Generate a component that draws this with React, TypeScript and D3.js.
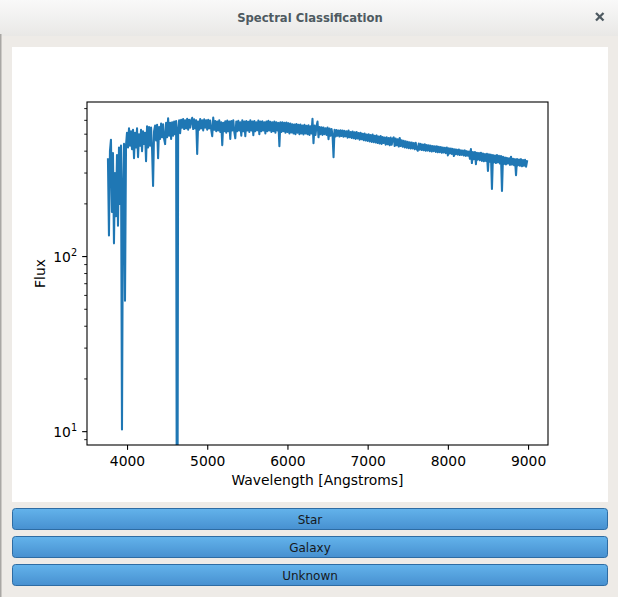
import React from 'react';
import * as d3 from 'd3';

// Spectrum sampling (as stored in a spectrum file header): start wavelength and step, in Angstroms
const WAVE_START = 3756;
const WAVE_STEP = 12.5;

// Flux values, one per sample (0 = bad pixel, clipped on the log axis)
const flux: number[] = [
  // 3756 - 4000
  360, 132, 400, 465, 180, 390, 119, 300, 170, 380, 150, 420, 200, 430, 10.3, 250, 440, 56, 430, 510,
  // 4006 - 4318
  420, 540, 430, 520, 410, 530, 365, 510, 420, 540, 370, 500, 430, 530, 400, 520, 440, 510, 351, 555, 420, 550, 430, 545, 410, 253,
  // 4331 - 4618
  520, 560, 460, 565, 365, 550, 470, 575, 480, 570, 470, 439, 580, 480, 616, 490, 580, 470, 585, 490, 590, 500, 595, 0,
  // 4631 - 5068
  540, 600, 507, 605, 545, 610, 535, 600, 540, 612, 530, 605, 545, 600, 620, 535, 608, 540, 600, 385,
  590, 530, 610, 540, 600, 525, 608, 545, 600, 530, 605, 540, 598, 530, 487, 622,
  // 5081 - 5906
  530, 595, 520, 590, 525, 600, 515, 585, 433, 580, 520, 592, 510, 598, 520, 590, 470, 595, 525, 600,
  515, 474, 590, 520, 596, 525, 585, 490, 600, 520, 590, 487, 595, 525, 588, 515, 600, 525, 590, 493,
  595, 520, 585, 527, 598, 500, 590, 520, 592, 525, 585, 505, 590, 520, 596, 525, 588, 515, 585, 520,
  590, 510, 585, 525, 580, 427, 585,
  // 5918 - 6656
  515, 585, 520, 580, 510, 582, 515, 578, 505, 575, 512, 570, 505, 568, 500, 572, 510, 565, 500, 568,
  505, 560, 498, 565, 505, 558, 500, 562, 495, 555, 505, 612, 444, 560, 495, 555, 590, 480, 550, 500,
  548, 495, 545, 500, 540, 495, 545, 468, 538, 490, 535, 495, 370, 530, 485, 528, 490, 525, 485, 527,
  // 6668 - 7406
  488, 525, 483, 522, 486, 520, 478, 524, 480, 515, 476, 518, 474, 512, 470, 515, 472, 508, 465, 510,
  468, 502, 462, 505, 460, 498, 458, 500, 455, 495, 452, 497, 450, 490, 448, 492, 445, 485, 442, 488,
  440, 482, 445, 478, 436, 480, 438, 475, 432, 478, 435, 470, 480, 428, 472, 432, 468, 425, 476, 428,
  // 7418 - 8243
  462, 424, 458, 420, 455, 418, 452, 416, 450, 414, 448, 415, 445, 410, 446, 412, 402, 442, 408, 440,
  406, 437, 405, 438, 402, 434, 403, 432, 400, 430, 398, 428, 400, 426, 396, 427, 394, 424, 395, 422,
  392, 420, 393, 418, 390, 419, 378, 416, 388, 414, 386, 412, 375, 410, 384, 408, 382, 409, 380, 405,
  381, 403, 378, 404, 376, 400, 377,
  // 8256 - 8668
  398, 362, 411, 342, 395, 360, 396, 337, 392, 358, 390, 355, 392, 352, 388, 350, 385, 352, 386, 308,
  384, 348, 382, 243, 380, 345, 378, 342, 380, 345, 376, 340, 375, 237,
  // 8681 - 8981
  372, 338, 368, 336, 366, 340, 364, 334, 372, 335, 362, 333, 360, 292, 361, 332, 358, 330, 360, 328,
  356, 330, 357, 326, 350,
];

const xTicks = [4000, 5000, 6000, 7000, 8000, 9000];
const yMajorTicks = [10, 100];
const yMajorExp = ['1', '2'];
const yMinorTicks = [9, 20, 30, 40, 50, 60, 70, 80, 90, 200, 300, 400, 500, 600, 700];
const buttonLabels = ['Star', 'Galaxy', 'Unknown'];
const windowTitle = 'Spectral Classification';
const xLabel = 'Wavelength [Angstroms]';
const yLabel = 'Flux';

type Pt = { w: number; f: number };

export default function App() {
  const W = 618;
  const H = 597;
  const plot = { left: 87, right: 548, top: 102, bottom: 445 };

  const data: Pt[] = flux.map((f, i) => ({ w: WAVE_START + i * WAVE_STEP, f }));
  const wMin = data[0].w;
  const wMax = data[data.length - 1].w;
  const pad = (wMax - wMin) * 0.05;
  const x = d3.scaleLinear().domain([wMin - pad, wMax + pad]).range([plot.left, plot.right]);

  const pos = flux.filter((f) => f > 0);
  const lmin = Math.log10(d3.min(pos) as number);
  const lmax = Math.log10(d3.max(pos) as number);
  const lpad = (lmax - lmin) * 0.05;
  const y = d3
    .scaleLog()
    .domain([Math.pow(10, lmin - lpad), Math.pow(10, lmax + lpad)])
    .range([plot.bottom, plot.top]);

  const line = d3
    .line<Pt>()
    .x((d) => x(d.w))
    .y((d) => (d.f > 0 ? y(d.f) : plot.bottom + 300));

  const font = "'DejaVu Sans', sans-serif";
  const fs = 13.89;
  const majorLen = 4.86;
  const minorLen = 2.78;
  const axisStroke = 1.1;

  const btnY0 = 508;
  const btnStep = 28;
  const btnH = 22;

  return (
    <svg
      width={W}
      height={H}
      viewBox={`0 0 ${W} ${H}`}
      style={{ position: 'absolute', left: 0, top: 0, display: 'block' }}
    >
      <defs>
        <linearGradient id="titleGrad" x1="0" y1="0" x2="0" y2="1">
          <stop offset="0" stopColor="#f9f9f9" />
          <stop offset="1" stopColor="#e9e8e6" />
        </linearGradient>
        <linearGradient id="btnGrad" x1="0" y1="0" x2="0" y2="1">
          <stop offset="0" stopColor="#63b3eb" />
          <stop offset="1" stopColor="#4790d0" />
        </linearGradient>
        <clipPath id="axClip">
          <rect x={plot.left} y={plot.top} width={plot.right - plot.left} height={plot.bottom - plot.top} />
        </clipPath>
      </defs>

      {/* window background */}
      <rect x={0} y={0} width={W} height={H} fill="#eeebe7" />
      <rect x={0} y={0} width={W} height={36} fill="url(#titleGrad)" />
      <rect x={0} y={34} width={1.5} height={H - 34} fill="#a9a7a4" />
      <text
        x={310}
        y={22}
        textAnchor="middle"
        fontFamily={font}
        fontWeight="bold"
        fontSize={11.6}
        fill="#4e5a61"
      >
        {windowTitle}
      </text>
      <g stroke="#4e5a61" strokeWidth={2.3} strokeLinecap="butt">
        <line x1={596} y1={13} x2={603.5} y2={20.5} />
        <line x1={603.5} y1={13} x2={596} y2={20.5} />
      </g>

      {/* figure canvas */}
      <rect x={12} y={47} width={596} height={455} fill="#ffffff" />

      {/* spectrum */}
      <path
        d={line(data) || ''}
        fill="none"
        stroke="#1f77b4"
        strokeWidth={2.08}
        strokeLinejoin="round"
        strokeLinecap="square"
        clipPath="url(#axClip)"
      />

      {/* spines */}
      <rect
        x={plot.left}
        y={plot.top}
        width={plot.right - plot.left}
        height={plot.bottom - plot.top}
        fill="none"
        stroke="#000"
        strokeWidth={axisStroke}
      />

      {/* x axis ticks */}
      {xTicks.map((t) => (
        <g key={`xt${t}`}>
          <line
            x1={x(t)}
            x2={x(t)}
            y1={plot.bottom}
            y2={plot.bottom + majorLen}
            stroke="#000"
            strokeWidth={axisStroke}
          />
          <text x={x(t)} y={466} textAnchor="middle" fontFamily={font} fontSize={fs} fill="#000">
            {t}
          </text>
        </g>
      ))}
      <text x={(plot.left + plot.right) / 2} y={485} textAnchor="middle" fontFamily={font} fontSize={fs} fill="#000">
        {xLabel}
      </text>

      {/* y axis ticks */}
      {yMinorTicks.map((t) => (
        <line
          key={`ym${t}`}
          x1={plot.left - minorLen}
          x2={plot.left}
          y1={y(t)}
          y2={y(t)}
          stroke="#000"
          strokeWidth={axisStroke * 0.8}
        />
      ))}
      {yMajorTicks.map((t, i) => (
        <g key={`yt${t}`}>
          <line
            x1={plot.left - majorLen}
            x2={plot.left}
            y1={y(t)}
            y2={y(t)}
            stroke="#000"
            strokeWidth={axisStroke}
          />
          <text
            x={plot.left - majorLen - 5}
            y={y(t) + 5.5}
            textAnchor="end"
            fontFamily={font}
            fontSize={fs}
            fill="#000"
          >
            10
            <tspan dy={-6.5} fontSize={9.7}>
              {yMajorExp[i]}
            </tspan>
          </text>
        </g>
      ))}
      <text
        transform={`translate(45, ${(plot.top + plot.bottom) / 2}) rotate(-90)`}
        textAnchor="middle"
        fontFamily={font}
        fontSize={fs}
        fill="#000"
      >
        {yLabel}
      </text>

      {/* buttons */}
      {buttonLabels.map((b, i) => (
        <g key={b}>
          <rect
            x={12.5}
            y={btnY0 + i * btnStep + 0.5}
            width={595}
            height={btnH - 1}
            rx={3}
            fill="url(#btnGrad)"
            stroke="#2e6ca3"
            strokeWidth={1}
          />
          <text
            x={310}
            y={btnY0 + i * btnStep + 15.5}
            textAnchor="middle"
            fontFamily={font}
            fontSize={12}
            fill="#16191c"
          >
            {b}
          </text>
        </g>
      ))}
    </svg>
  );
}
